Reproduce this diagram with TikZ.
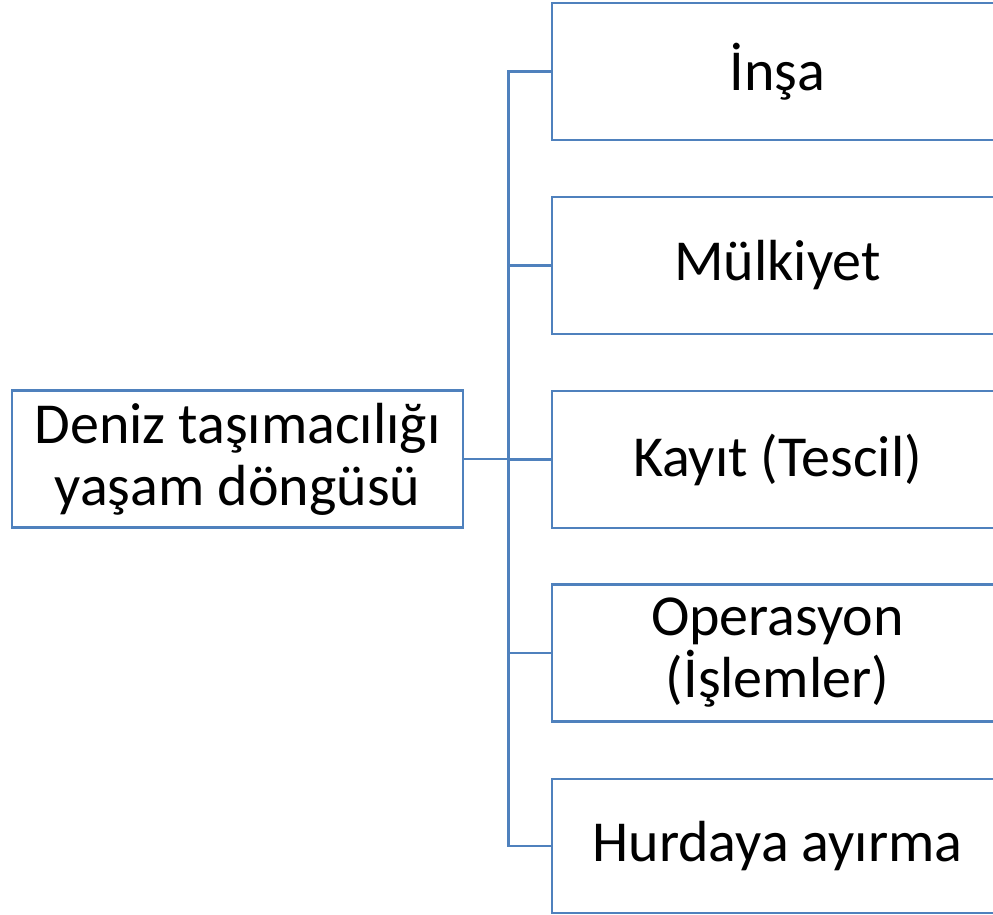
\documentclass[tikz,border=0pt]{standalone}
\usepackage{fontspec}
\setmainfont{Carlito}
\definecolor{linkblue}{RGB}{79,129,189}
\begin{document}
\begin{tikzpicture}[x=1pt,y=-1pt,
  box/.style={draw=linkblue, line width=2.8pt, fill=white, minimum width=451pt, minimum height=137pt,
    inner sep=0pt, align=center, font=\fontsize{58}{62}\selectfont},
  conn/.style={draw=linkblue, line width=2.8pt}]
\clip (0,0) rectangle (993,915);
\fill[white] (0,0) rectangle (993,915);
\node[box] (root) at (237.5,459) {Deniz taşımacılığı\\yaşam döngüsü};
\node[box] (b1) at (777.5,71.5) {İnşa};
\node[box] (b2) at (777.5,265.5) {Mülkiyet};
\node[box] (b3) at (777.5,459.5) {Kayıt (Tescil)};
\node[box] (b4) at (777.5,653) {Operasyon\\(İşlemler)};
\node[box, minimum height=134pt] (b5) at (777.5,846) {Hurdaya ayırma};
\coordinate (spine) at (508.5,0);
\draw[conn] (b1.west) -- (b1.west -| spine) -- (b5.west -| spine) -- (b5.west);
\draw[conn] (b2.west) -- (b2.west -| spine);
\draw[conn] (b3.west) -- (b3.west -| spine);
\draw[conn] (b4.west) -- (b4.west -| spine);
\draw[conn] (root.east) -- (root.east -| spine);
\end{tikzpicture}
\end{document}
